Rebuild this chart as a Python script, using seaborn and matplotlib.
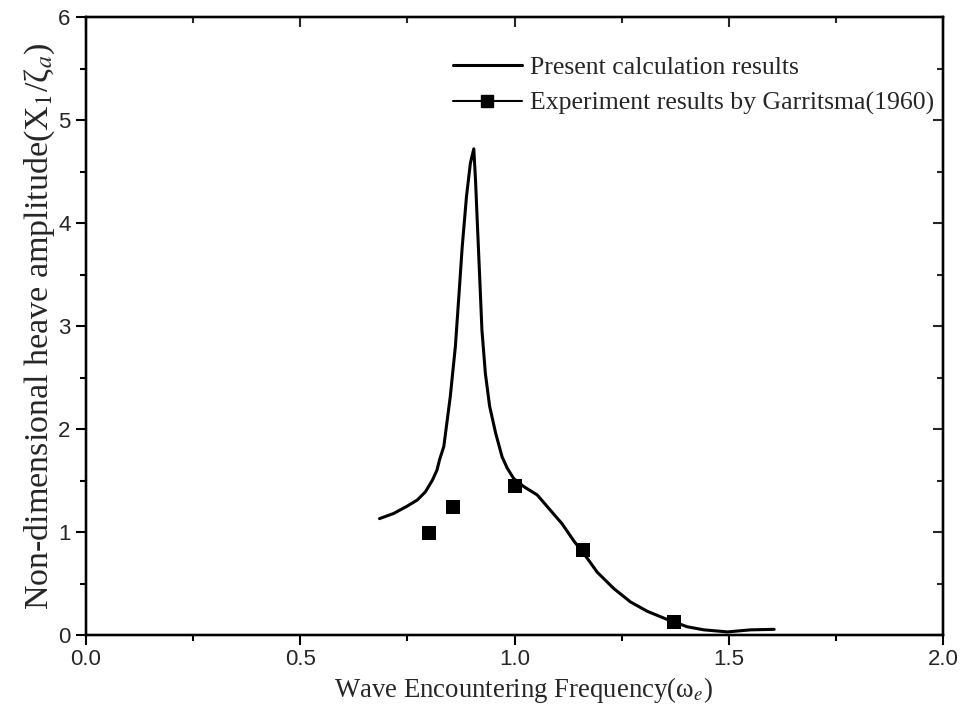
import numpy as np
import pandas as pd
import matplotlib
matplotlib.use("Agg")
import matplotlib.pyplot as plt
from matplotlib.lines import Line2D
from matplotlib.ticker import MultipleLocator
import seaborn as sns

# ---- data ----
calc_freq = [0.685, 0.718, 0.749, 0.773, 0.792, 0.808, 0.819, 0.825, 0.835, 0.850,
             0.862, 0.870, 0.878, 0.888, 0.897, 0.905, 0.909, 0.914, 0.919, 0.924,
             0.932, 0.942, 0.956, 0.971, 0.983, 0.998, 1.022, 1.053, 1.084, 1.111,
             1.139, 1.162, 1.193, 1.232, 1.271, 1.310, 1.357, 1.403, 1.442, 1.497,
             1.551, 1.606]
calc_amp = [1.13, 1.18, 1.25, 1.31, 1.39, 1.50, 1.60, 1.70, 1.83, 2.31,
            2.80, 3.28, 3.77, 4.26, 4.58, 4.72, 4.42, 3.93, 3.45, 2.96,
            2.54, 2.22, 1.96, 1.73, 1.62, 1.52, 1.44, 1.36, 1.21, 1.08,
            0.91, 0.79, 0.61, 0.45, 0.32, 0.23, 0.15, 0.08, 0.05, 0.03,
            0.05, 0.055]
exp_freq = [0.80, 0.857, 1.00, 1.161, 1.372]
exp_amp = [0.99, 1.24, 1.45, 0.83, 0.13]

label_calc = "Present calculation results"
label_exp = "Experiment results by Garritsma(1960)"
xlabel = "Wave Encountering Frequency(\u03c9$_e$)"
ylabel = "Non-dimensional heave amplitude(X$_1$/\u03b6$_a$)"
xticks = [0.0, 0.5, 1.0, 1.5, 2.0]
yticks = [0, 1, 2, 3, 4, 5, 6]

sns.set_style("white")
plt.rcParams['font.family'] = ['Liberation Serif', 'DejaVu Serif']
plt.rcParams['mathtext.fontset'] = 'stix'

calc_df = pd.DataFrame({"freq": calc_freq, "amp": calc_amp})
exp_df = pd.DataFrame({"freq": exp_freq, "amp": exp_amp})

fig = plt.figure(figsize=(9.6, 7.15), dpi=100)
ax = fig.add_axes([86/960, 80/715, (943-86)/960, (635-17)/715])

sns.lineplot(data=calc_df, x="freq", y="amp", ax=ax, color="black",
             linewidth=2.2, sort=False, estimator=None, legend=False)
sns.scatterplot(data=exp_df, x="freq", y="amp", ax=ax, color="black",
                marker="s", s=110, edgecolor="black", linewidth=0, legend=False)

ax.set_xlim(0, 2.0)
ax.set_ylim(0, 6)
ax.set_xticks(xticks)
ax.set_yticks(yticks)
ax.set_xticklabels([f"{v:.1f}" for v in xticks], family="Liberation Sans", fontsize=16)
ax.set_yticklabels([str(v) for v in yticks], family="Liberation Sans", fontsize=16)
ax.xaxis.set_minor_locator(MultipleLocator(0.25))
ax.yaxis.set_minor_locator(MultipleLocator(0.5))
ax.tick_params(which="major", direction="out", length=7, width=1.5, color="black")
ax.tick_params(which="minor", direction="out", length=4, width=1.5, color="black")
ax.tick_params(axis="x", pad=3)
ax.tick_params(axis="y", pad=4)

for sp in ax.spines.values():
    sp.set_color("black")
    sp.set_linewidth(1.6)

# inward ticks on top and right
axt = ax.twiny()
axt.set_xlim(ax.get_xlim())
axt.set_xticks(xticks)
axt.xaxis.set_minor_locator(MultipleLocator(0.25))
axt.tick_params(which="major", direction="in", length=7, width=1.5, labeltop=False)
axt.tick_params(which="minor", direction="in", length=4, width=1.5)
axr = ax.twinx()
axr.set_ylim(ax.get_ylim())
axr.set_yticks(yticks)
axr.yaxis.set_minor_locator(MultipleLocator(0.5))
axr.tick_params(which="major", direction="in", length=7, width=1.5, labelright=False)
axr.tick_params(which="minor", direction="in", length=4, width=1.5)
for a in (axt, axr):
    for sp in a.spines.values():
        sp.set_linewidth(1.6)
        sp.set_color("black")

ax.set_xlabel(xlabel, fontsize=19.3, labelpad=4)
ax.xaxis.label.set_x(0.51)
ax.set_ylabel(ylabel, fontsize=24.5, labelpad=1)

handles = [Line2D([], [], color="black", linewidth=2.2),
           Line2D([], [], color="black", linewidth=1.5, marker="s", markersize=9)]
ax.legend(handles, [label_calc, label_exp], loc="upper left",
          bbox_to_anchor=(0.428, 0.937), frameon=False, fontsize=18.5,
          handlelength=2.7, handletextpad=0.3, labelspacing=0.5,
          borderpad=0, borderaxespad=0)

fig.savefig("out.png", dpi=100)
